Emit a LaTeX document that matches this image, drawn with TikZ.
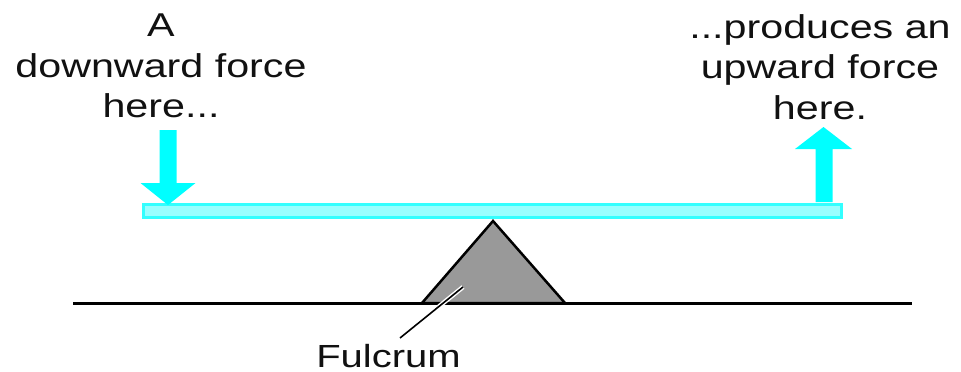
\documentclass[tikz,border=0pt]{standalone}
\usepackage{fontspec}
\setmainfont[FakeStretch=1.25]{Liberation Sans}
\definecolor{arrowcyan}{HTML}{00FFFF}
\definecolor{beamfill}{HTML}{99FFFF}
\definecolor{beamedge}{HTML}{33FFFF}
\definecolor{fulcgray}{HTML}{999999}
\definecolor{txt}{HTML}{111111}
\tikzset{
  label text/.style={align=center, inner sep=0pt, text=txt, font=\fontsize{33}{40.5}\selectfont},
  beambox/.style={draw=beamedge, fill=beamfill, line width=3pt, minimum width=698pt, minimum height=13pt, inner sep=0pt},
  force arrow/.style={fill=arrowcyan, draw=none},
  ground/.style={line width=3pt, black},
  fulcrum shape/.style={fill=fulcgray, draw=black, line width=2.5pt, line join=miter},
  pointer halo/.style={white, line width=4.5pt},
  pointer/.style={black, line width=1.6pt}
}
\begin{document}
\begin{tikzpicture}[x=1pt, y=-1pt]
\useasboundingbox (0,0) rectangle (961,372);
% ground
\coordinate (gl) at (73,303);
\coordinate (gr) at (912,303);
\draw[ground] (gl) -- (gr);
% fulcrum
\coordinate (apex) at (493,221);
\coordinate (bl) at (422,303);
\coordinate (br) at (565,303);
\draw[fulcrum shape] (bl) -- (apex) -- (br) -- cycle;
% beam
\node[beambox] (beam) at (492.5,211) {};
% down arrow
\fill[force arrow] (159.5,130) -- (176.5,130) -- (176.5,183) -- (195.5,183) -- (168,205) -- (140.5,183) -- (159.5,183) -- cycle;
% up arrow
\fill[force arrow] (815.5,202) -- (832.5,202) -- (832.5,149) -- (852,149) -- (823.5,127) -- (795,149) -- (815.5,149) -- cycle;
% texts
\node[label text, anchor=north] (lefttext) at (161,14) {A\\downward force\\here...};
\node[label text, anchor=north] (righttext) at (820,14) {...produces an\\upward force\\here.};
\node[label text, anchor=base, font=\fontsize{32}{38}\selectfont] (fulcrum) at (388.5,367) {Fulcrum};
% pointer
\coordinate (ptr) at (463,287);
\coordinate (ptrend) at (400,338);
\draw[pointer halo] (ptr) -- (ptrend);
\draw[pointer] (ptr) -- (ptrend);
\end{tikzpicture}
\end{document}
